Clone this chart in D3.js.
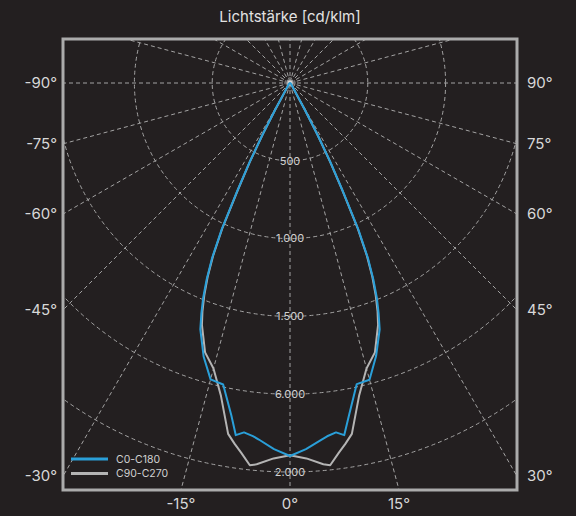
<!DOCTYPE html>
<html>
<head>
<meta charset="utf-8">
<script src="https://cdn.jsdelivr.net/npm/d3@7"></script>
<style>
  html, body { margin: 0; padding: 0; background: #231f20; }
  svg { display: block; font-family: Inter, "Open Sans", sans-serif; }
</style>
</head>
<body>
<script>
// angles in degrees from nadir, negative = left side
const angles = [-90, -80, -70, -60, -50, -40, -35, -32.5, -30, -29, -28, -27, -26, -25, -24, -23, -22, -21, -20, -17.5, -15, -12.5, -10, -8.75, -7.5, -6, -5, -2.5,
  0, 2.5, 5, 6, 7.5, 8.75, 10, 12.5, 15, 17.5, 20, 21, 22, 23, 24, 25, 26, 27, 28, 29, 30, 32.5, 35, 40, 50, 60, 70, 80, 90];

const c0c180 = [0, 1, 2, 4, 8, 15, 25, 40, 90, 200, 380, 580, 780, 1040, 1230, 1370, 1490, 1590, 1685, 1845, 1972, 1985, 2170, 2290, 2265, 2282, 2300, 2355,
  2397, 2355, 2302, 2283, 2265, 2290, 2175, 1982, 1974, 1840, 1685, 1590, 1490, 1370, 1230, 1040, 780, 580, 380, 200, 90, 40, 25, 15, 8, 4, 2, 1, 0];

const c90c270 = [0, 1, 2, 4, 8, 14, 24, 38, 85, 195, 370, 570, 765, 1025, 1215, 1355, 1470, 1570, 1655, 1815, 1900, 2055, 2290, 2345, 2398, 2470, 2460, 2415,
  2393, 2415, 2460, 2470, 2398, 2345, 2290, 2055, 1900, 1815, 1655, 1570, 1470, 1355, 1215, 1025, 765, 570, 370, 195, 85, 38, 24, 14, 8, 4, 2, 1, 0];

const ringValues = [500, 1000, 1500, 2000, 2500, 3000, 3500, 4000];
const ringLabels = ['500', '1.000', '1.500', '6.000', '2.000'];
const angleTicks = d3.range(-90, 91, 15);
const seriesNames = ['C0-C180', 'C90-C270'];
const seriesColors = ['#2a9fd8', '#b4b4b4'];

const width = 576, height = 516;
const frame = { x0: 63, y0: 39, x1: 517, y1: 490 };
const cx = 290, cy = 83;

const r = d3.scaleLinear().domain([0, 500]).range([0, 77.8]);

const svg = d3.select('body').append('svg')
  .attr('width', width)
  .attr('height', height);

svg.append('rect').attr('width', width).attr('height', height).attr('fill', '#231f20');

svg.append('defs').append('clipPath').attr('id', 'clip')
  .append('rect')
  .attr('x', frame.x0).attr('y', frame.y0)
  .attr('width', frame.x1 - frame.x0).attr('height', frame.y1 - frame.y0);

// title
svg.append('text')
  .attr('x', cx).attr('y', 22)
  .attr('text-anchor', 'middle')
  .attr('fill', '#e2e2e2')
  .attr('font-size', 15)
  .text('Lichtstärke [cd/klm]');

const plot = svg.append('g').attr('clip-path', 'url(#clip)');
const g = plot.append('g').attr('transform', `translate(${cx},${cy})`);

const gridStyle = sel => sel.attr('fill', 'none')
  .attr('stroke', '#a3a3a3')
  .attr('stroke-width', 1)
  .attr('stroke-dasharray', '4,3');

// rings
g.selectAll('circle.ring')
  .data(ringValues)
  .enter().append('circle')
  .attr('class', 'ring')
  .attr('r', d => r(d))
  .call(gridStyle);

// spokes every 15 degrees all the way round
g.selectAll('line.spoke')
  .data(d3.range(0, 360, 15))
  .enter().append('line')
  .attr('class', 'spoke')
  .attr('x1', 0).attr('y1', 0)
  .attr('x2', d => 800 * Math.sin(d * Math.PI / 180))
  .attr('y2', d => 800 * Math.cos(d * Math.PI / 180))
  .call(gridStyle);

g.append('circle').attr('r', 5).call(gridStyle);
g.append('circle').attr('r', 2.5).attr('fill', '#d8d8d8');

// ring labels
g.selectAll('text.ringlabel')
  .data(ringLabels)
  .enter().append('text')
  .attr('class', 'ringlabel')
  .attr('x', 0)
  .attr('y', (d, i) => r(ringValues[i]))
  .attr('dy', '0.35em')
  .attr('text-anchor', 'middle')
  .attr('fill', '#d0d0d0')
  .attr('font-size', 11)
  .text(d => d);

// curves
const line = d3.lineRadial()
  .angle(d => Math.PI - d[0] * Math.PI / 180)
  .radius(d => r(d[1]));

[c90c270, c0c180].forEach((vals, k) => {
  const idx = 1 - k;
  g.append('path')
    .datum(angles.map((a, i) => [a, vals[i]]))
    .attr('d', line)
    .attr('fill', 'none')
    .attr('stroke', seriesColors[idx])
    .attr('stroke-width', 2)
    .attr('stroke-linejoin', 'round');
});

// frame
svg.append('rect')
  .attr('x', frame.x0).attr('y', frame.y0)
  .attr('width', frame.x1 - frame.x0).attr('height', frame.y1 - frame.y0)
  .attr('fill', 'none')
  .attr('stroke', '#ababab')
  .attr('stroke-width', 3);

// angle labels where the spokes meet the frame
angleTicks.forEach(a => {
  const t = a * Math.PI / 180;
  const sx = Math.sin(t), sy = Math.cos(t);
  const tx = sx === 0 ? Infinity : (sx > 0 ? frame.x1 - cx : cx - frame.x0) / Math.abs(sx);
  const ty = (frame.y1 - cy) / sy;
  const lab = svg.append('text')
    .attr('fill', '#d8d8d8')
    .attr('font-size', 15)
    .text(a + '°');
  if (ty < tx) {
    lab.attr('x', cx + ty * sx).attr('y', frame.y1 + 19).attr('text-anchor', 'middle');
  } else if (sx < 0) {
    lab.attr('x', frame.x0 - 6).attr('y', cy + tx * sy).attr('dy', '0.35em').attr('text-anchor', 'end');
  } else {
    lab.attr('x', frame.x1 + 10).attr('y', cy + tx * sy).attr('dy', '0.35em').attr('text-anchor', 'start');
  }
});

// legend
const legend = svg.append('g').attr('transform', 'translate(71,459)');
seriesNames.forEach((name, i) => {
  legend.append('line')
    .attr('x1', 0).attr('x2', 37)
    .attr('y1', i * 14.5).attr('y2', i * 14.5)
    .attr('stroke', seriesColors[i])
    .attr('stroke-width', 3);
  legend.append('text')
    .attr('x', 45).attr('y', i * 14.5)
    .attr('dy', '0.35em')
    .attr('fill', '#d0d0d0')
    .attr('font-size', 10.5)
    .text(name);
});
</script>
</body>
</html>
